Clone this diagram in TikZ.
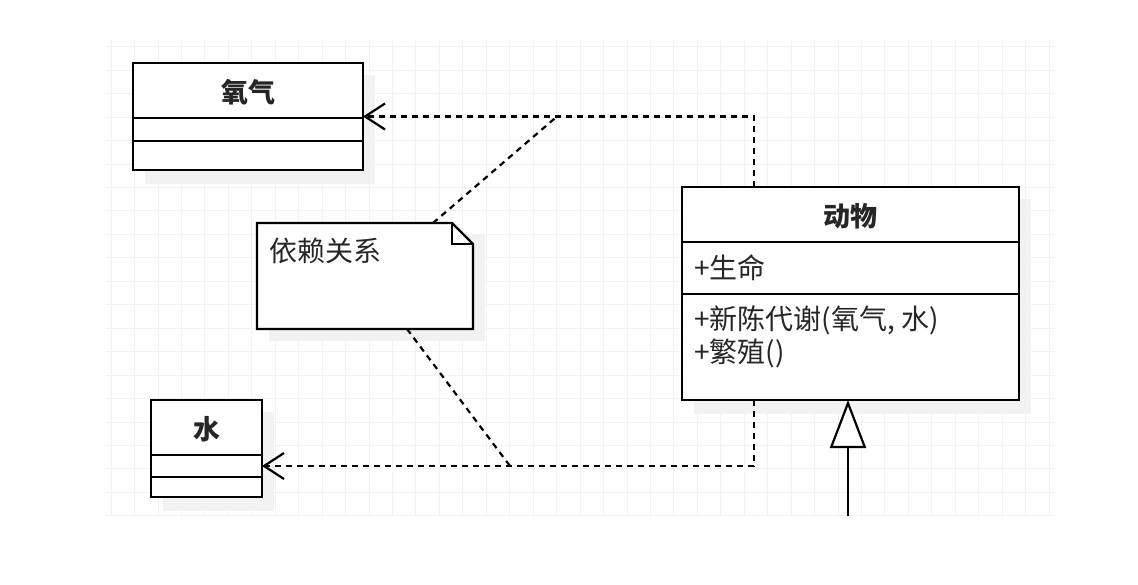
\documentclass[tikz,border=0pt]{standalone}
\usepackage{fontspec}
\setmainfont{Noto Sans CJK SC}
\usetikzlibrary{arrows.meta,calc}
\tikzset{
  classbox/.style={draw=black, line width=2.2pt, fill=white, inner sep=0pt},
  shadowbox/.style={fill=black!5, draw=none},
  divider/.style={draw=black, line width=2.2pt},
  title/.style={font=\fontsize{27}{32}\selectfont\bfseries, text=black!85, inner sep=0pt},
  member/.style={font=\fontsize{28}{32}\selectfont, text=black!85, inner sep=0pt, anchor=west},
  dep/.style={draw=black, line width=2.2pt, dash pattern=on 6pt off 5pt, -{Straight Barb[length=20pt,width=26pt,line width=2.2pt]}},
  notelink/.style={draw=black, line width=2.2pt, dash pattern=on 6pt off 5pt},
  inherit/.style={draw=black, line width=2.2pt, -{Triangle[open,length=48pt,width=36pt,line width=2.2pt,fill=white]}},
  gridline/.style={draw=black!5, line width=0.8pt}
}
\begin{document}
\begin{tikzpicture}[x=1pt,y=-1pt]
\useasboundingbox (0,0) rectangle (1138,585);
\fill[white] (0,0) rectangle (1138,585);
% background grid
\foreach \i in {0,...,40} {
  \draw[gridline] ({111+23.45*\i},40) -- ({111+23.45*\i},515);
}
\foreach \j in {0,...,20} {
  \draw[gridline] (105,{46.7+23.45*\j}) -- (1055,{46.7+23.45*\j});
}
% shadows
\fill[shadowbox] (145,75) rectangle (375,184);
\fill[shadowbox] (163,412) rectangle (274,511);
\fill[shadowbox] (694,199) rectangle (1031,414);
\fill[shadowbox] (269,235) rectangle (485,341);
% class 氧气
\node[classbox, minimum width=230pt, minimum height=107pt] (oxy) at (248,116.5) {};
\draw[divider] (oxy.west |- 0,118) -- (oxy.east |- 0,118);
\draw[divider] (oxy.west |- 0,141) -- (oxy.east |- 0,141);
\node[title] (oxyname) at (248,92) {氧气};
% class 水
\node[classbox, minimum width=111pt, minimum height=97pt] (water) at (206.5,448.5) {};
\draw[divider] (water.west |- 0,455) -- (water.east |- 0,455);
\draw[divider] (water.west |- 0,477) -- (water.east |- 0,477);
\node[title] (watername) at (206.5,429) {水};
% class 动物
\node[classbox, minimum width=337pt, minimum height=213pt] (animal) at (850.5,293.5) {};
\draw[divider] (animal.west |- 0,242) -- (animal.east |- 0,242);
\draw[divider] (animal.west |- 0,294) -- (animal.east |- 0,294);
\node[title] (animalname) at (850.5,216) {动物};
\node[member] (attr) at (694,268) {+生命};
\node[member] (op1) at (694,320) {+新陈代谢(氧气, 水)};
\node[member] (op2) at (694,353) {+繁殖()};
% note
\draw[line width=2.2pt, fill=white] (257,223) -- (452,223) -- (473,244) -- (473,329) -- (257,329) -- cycle;
\draw[line width=2.2pt, line join=miter] (452,223) -- (452,244) -- (473,244);
\node[member] (note) at (269,251) {依赖关系};
\coordinate (notetop) at (433,223);
\coordinate (notebot) at (407,329);
% dependencies
\coordinate (atop) at (754,187);
\coordinate (abot) at (754,400);
\coordinate (oxyarrow) at (363,116.5);
\coordinate (waterarrow) at (262,466);
\coordinate (bend1) at (754,116.5);
\coordinate (bend2) at (754,466);
\coordinate (join1) at (557,116.5);
\coordinate (join2) at (510,466);
\draw[dep] (atop) -- (bend1) -- (oxyarrow);
\draw[dep] (abot) -- (bend2) -- (waterarrow);
\draw[notelink] (notetop) -- (join1);
\draw[notelink] (notebot) -- (join2);
% inheritance
\coordinate (sub) at (848,516);
\draw[inherit] (sub) -- (848,400);
\end{tikzpicture}
\end{document}
